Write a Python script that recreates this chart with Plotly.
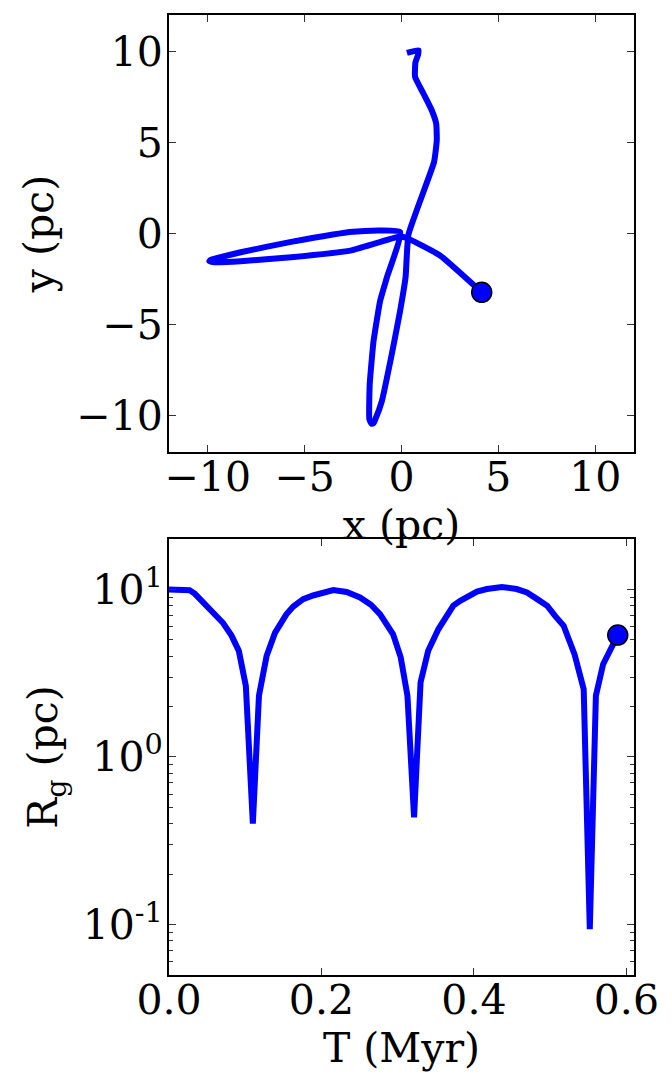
import plotly.graph_objects as go

# ---- data: orbit in the plane (pc) ----
x_pos = [0.28, 0.88, 0.85, 0.72, 0.70, 1.13, 1.56, 1.79, 1.82, 1.68, 0.36, 0.21,
         -0.07, -0.5, -1.01, -1.35, -1.45, -1.55, -1.66, -1.64, -1.44, -1.1, -0.75, -0.07,
         -2.5, -5.7, -8.3, -9.5, -9.85, -9.92, -9.75, -9.5, -8.3, -5.7, -2.64, -0.07, 0.35, 1.99, 4.14]
y_pos = [9.92, 10.07, 9.8, 9.4, 8.6, 7.69, 6.77, 6.04, 5.12, 3.93, -0.05, -2.4,
         -4.24, -6.62, -9.19, -10.2, -10.42, -10.45, -10.2, -8.27, -5.89, -3.69, -2.4, 0.08,
         0.1, -0.46, -1.03, -1.34, -1.44, -1.52, -1.57, -1.58, -1.52, -1.3, -0.94, -0.17, -0.29, -1.21, -3.23]

# ---- data: galactocentric radius vs time ----
t_myr = [0.0, 0.015, 0.027, 0.034, 0.05, 0.071, 0.082, 0.0916, 0.1008, 0.110, 0.118,
         0.128, 0.139, 0.154, 0.163, 0.176, 0.189, 0.2155, 0.233, 0.2506, 0.265, 0.277,
         0.294, 0.304, 0.3128, 0.3215, 0.330, 0.340, 0.3535, 0.373, 0.382, 0.404, 0.417,
         0.4367, 0.456, 0.4696, 0.483, 0.496, 0.507, 0.5177, 0.532, 0.544, 0.552, 0.560,
         0.5695, 0.5887]
r_g = [10.0, 10.05, 9.9, 9.4, 8.0, 6.3, 5.3, 4.3, 2.66, 0.40, 2.32,
       4.0, 5.5, 7.1, 7.9, 8.75, 9.2, 9.9, 9.65, 8.95, 8.1, 7.1,
       5.4, 3.93, 2.32, 0.436, 2.79, 4.3, 5.8, 8.0, 8.55, 9.7, 10.05,
       10.35, 10.05, 9.6, 8.75, 8.0, 6.9, 6.07, 4.1, 2.54, 0.094, 2.32,
       3.58, 5.34]

xy_ticks = [-10, -5, 0, 5, 10]
xy_ticktext = ["\u221210", "\u22125", "0", "5", "10"]
t_ticks = [0.0, 0.2, 0.4, 0.6]
t_ticktext = ["0.0", "0.2", "0.4", "0.6"]
r_ticks = [0.1, 1, 10]
r_ticktext = ["10<sup>-1</sup>", "10<sup>0</sup>", "10<sup>1</sup>"]

BLUE = "#0000ff"
FONT = dict(family="DejaVu Serif", size=41, color="black")

fig = go.Figure()
fig.add_trace(go.Scatter(x=x_pos, y=y_pos, mode="lines",
                         line=dict(color=BLUE, width=6, shape="spline", smoothing=0.4),
                         xaxis="x", yaxis="y", showlegend=False))
fig.add_trace(go.Scatter(x=[x_pos[-1]], y=[y_pos[-1]], mode="markers",
                         marker=dict(color=BLUE, size=20, line=dict(color="black", width=1.5)),
                         xaxis="x", yaxis="y", showlegend=False))
fig.add_trace(go.Scatter(x=t_myr, y=r_g, mode="lines",
                         line=dict(color=BLUE, width=6), xaxis="x2", yaxis="y2",
                         showlegend=False))
fig.add_trace(go.Scatter(x=[t_myr[-1]], y=[r_g[-1]], mode="markers",
                         marker=dict(color=BLUE, size=20, line=dict(color="black", width=1.5)),
                         xaxis="x2", yaxis="y2", showlegend=False))

common = dict(showline=True, linecolor="black", linewidth=2, mirror="allticks",
              ticks="inside", ticklen=7, tickwidth=1, tickcolor="#333",
              showgrid=False, zeroline=False, tickfont=FONT)

fig.update_layout(
    width=672, height=1082,
    margin=dict(l=169, r=38, t=15, b=107),
    paper_bgcolor="white", plot_bgcolor="white",
    font=FONT,
    xaxis=dict(domain=[0, 1], anchor="y", range=[-12, 12], tickvals=xy_ticks,
               ticktext=xy_ticktext, ticklabelstandoff=-12,
               title=dict(text="x (pc)", font=FONT, standoff=0),
               **common),
    yaxis=dict(domain=[0.5448, 1], anchor="x", range=[-12, 12], tickvals=xy_ticks,
               ticktext=xy_ticktext, ticklabelstandoff=-4,
               title=dict(text="y (pc)", font=FONT, standoff=10),
               **common),
    xaxis2=dict(domain=[0, 1], anchor="y2", range=[0, 0.61], tickvals=t_ticks,
                ticktext=t_ticktext, ticklabelstandoff=-12,
                title=dict(text="T (Myr)", font=FONT, standoff=0),
                **common),
    yaxis2=dict(domain=[0, 0.4542], anchor="x2", type="log", range=[-1.301, 1.301],
                tickvals=r_ticks, ticktext=r_ticktext, ticklabelstandoff=-4,
                title=dict(text="R<sub>g</sub> (pc)", font=FONT, standoff=12),
                minor=dict(ticks="inside", ticklen=4, tickcolor="#333", tickwidth=1,
                           tickvals=[0.06, 0.07, 0.08, 0.09, 0.2, 0.3, 0.4, 0.5, 0.6, 0.7, 0.8, 0.9,
                                     2, 3, 4, 5, 6, 7, 8, 9]),
                **common),
)

fig.write_html("out.html")
